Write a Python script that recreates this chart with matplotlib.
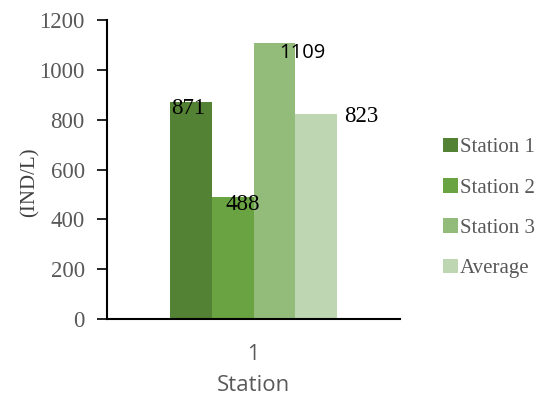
import matplotlib
matplotlib.use("Agg")
import matplotlib.pyplot as plt
from matplotlib.patches import Patch

# data
series = ["Station 1", "Station 2", "Station 3", "Average"]
values = [871, 488, 1109, 823]
categories = ["1"]
colors = ["#548235", "#6AA342", "#93BC7A", "#BED7B2"]

# label nudges (px), Excel put them a bit off-centre
label_dx = [-3, 10, 28, 45]
label_dy = [-7, -7, -10, -3]
label_sans = [False, False, True, False]   # the 1109 label is in a sans font

serif = "Liberation Serif"
sans = "Open Sans"
grey = "#595959"

fig = plt.figure(figsize=(5.36, 3.98), dpi=100)
ax = fig.add_axes([107 / 536, 1 - 319 / 398, 293 / 536, 299 / 398])

width = 0.142
x0 = 1
for i, (name, v, c) in enumerate(zip(series, values, colors)):
    xpos = x0 + (i - 1.5) * width
    ax.bar(xpos, v, width=width, color=c, linewidth=0, label=name)
    ax.annotate(str(v), xy=(xpos, v), xytext=(label_dx[i] * 0.72, label_dy[i] * 0.72),
                textcoords="offset points", ha="center", va="center",
                fontsize=14.5 if label_sans[i] else 16.5,
                family=sans if label_sans[i] else serif, color="black")

ax.set_xlim(0.5, 1.5)
ax.set_ylim(0, 1200)
ax.set_yticks(range(0, 1201, 200))
ax.set_xticks([x0])
ax.set_xticklabels(categories, family=sans, fontsize=15, color=grey)

for lab in ax.get_yticklabels():
    lab.set_family(serif)
    lab.set_fontsize(16.5)
    lab.set_color(grey)

ax.tick_params(axis="y", length=7, width=1.2, color="black", pad=9)
ax.tick_params(axis="x", length=0, pad=18)

ax.spines["top"].set_visible(False)
ax.spines["right"].set_visible(False)
ax.spines["left"].set_linewidth(1.5)
ax.spines["bottom"].set_linewidth(1.5)

ax.set_ylabel("(IND/L)", family=serif, fontsize=15, color="#404040")
ax.yaxis.set_label_coords((40 - 107) / 293, (319 - 182) / 299)
ax.set_xlabel("Station", family=sans, fontsize=16, color=grey)
ax.xaxis.set_label_coords(0.5, (319 - 375) / 299)

handles = [Patch(facecolor=c, edgecolor="none") for c in colors]
fig.legend(handles, series, loc="center left", bbox_to_anchor=(443 / 536, 1 - 208 / 398),
           frameon=False, prop={"family": serif, "size": 15}, borderpad=0, borderaxespad=0,
           labelcolor=grey, handlelength=0.7, handleheight=0.7,
           handletextpad=0.1, labelspacing=1.0)

plt.savefig("out.png", dpi=100)
